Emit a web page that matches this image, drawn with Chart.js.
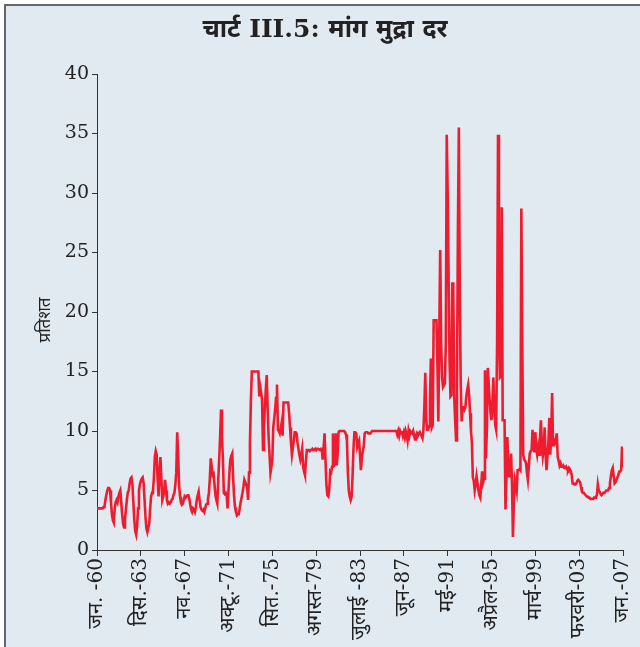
<!DOCTYPE html>
<html>
<head>
<meta charset="utf-8">
<script src="https://cdn.jsdelivr.net/npm/chart.js@4.4.1/dist/chart.umd.min.js"></script>
<style>
  html, body { margin: 0; padding: 0; background: #ffffff; }
  #frame {
    position: absolute; left: 4px; top: 4px; width: 636px; height: 643px;
    background: #e1e9f1; border-top: 2px solid #666; border-left: 2px solid #666;
    box-sizing: border-box;
  }
  #wrap { position: absolute; left: 0; top: 0; width: 640px; height: 647px; }
</style>
</head>
<body>
<div id="frame"></div>
<div id="wrap"><canvas id="c" width="640" height="647"></canvas></div>
<script>
// Monthly call money rate (per cent), Jan 1960 .. Jan 2007
const rate1960s = [
  3.5,3.5,3.5,3.5,3.5,3.5,3.5,3.6,3.6,4.2,4.6,5.0,
  5.2,5.2,5.0,4.0,3.0,2.5,2.3,3.5,4.0,4.2,4.0,4.5,
  4.8,5.0,4.0,3.0,2.2,1.9,2.6,3.4,4.2,4.8,5.0,5.6,
  6.0,6.1,5.5,4.0,2.5,1.6,1.3,2.0,3.5,5.0,5.5,5.8,
  6.0,6.1,5.6,4.2,2.8,1.8,1.5,1.9,2.2,3.5,4.5,4.8,
  5.0,6.0,7.8,8.3,8.0,6.0,4.5,6.5,7.8,6.0,4.2,4.5,
  5.0,5.9,5.0,4.2,3.9,4.0,3.9,4.0,4.2,4.3,4.6,4.8,
  5.5,6.5,9.9,8.0,5.5,4.5,4.0,3.8,3.9,4.2,4.5,4.4,
  4.5,4.6,4.6,4.3,3.8,3.4,3.2,3.5,3.4,3.2,3.6,4.2,
  4.6,4.9,4.2,3.6,3.4,3.3,3.4,3.2,3.5,3.8,3.9,4.3
];
const rate1970s = [
  4.8,6.0,7.7,7.0,6.3,6.4,5.5,4.6,4.2,3.9,5.9,7.6,
  9.5,11.8,9.5,7.6,4.8,4.7,4.8,4.6,3.5,5.0,6.5,7.6,
  7.9,8.1,6.0,4.5,3.6,3.2,2.9,3.0,3.0,3.5,4.0,4.4,
  4.8,5.3,5.9,5.7,5.5,5.2,4.2,6.5,9.0,12.5,15.0,15.0,
  15.0,15.0,15.0,15.0,15.0,15.0,12.9,13.7,13.2,12.6,8.4,10.5,
  12.0,13.5,14.7,11.8,9.5,8.0,6.5,7.0,7.6,10.3,11.0,11.8,
  12.8,13.9,10.1,10.0,9.8,10.2,10.7,9.6,12.4,12.4,12.4,12.4,
  12.4,12.4,11.5,10.3,9.0,8.0,8.6,9.2,9.9,9.9,9.8,9.0,
  8.5,8.0,7.6,8.0,8.5,7.0,6.6,6.3,7.5,8.4,8.4,8.4,
  8.3,8.4,8.4,8.5,8.4,8.4,8.5,8.4,8.5,8.5,8.5,8.4
];
const rate1980s = [
  8.5,8.5,7.6,8.6,9.8,7.6,5.5,4.6,4.5,5.0,6.6,6.5,
  7.0,9.8,7.0,7.5,9.8,7.1,8.0,9.9,10.0,10.0,10.0,10.0,
  10.0,10.0,9.9,9.7,9.2,6.5,5.0,4.5,4.2,4.5,6.2,8.5,
  9.9,9.9,9.8,8.7,9.0,9.2,8.0,6.7,7.8,8.3,8.7,9.8,
  9.9,9.9,9.9,9.8,9.8,9.8,9.9,10.0,10.0,10.0,10.0,10.0,
  10.0,10.0,10.0,10.0,10.0,10.0,10.0,10.0,10.0,10.0,10.0,10.0,
  10.0,10.0,10.0,10.0,10.0,10.0,10.0,10.0,10.0,10.0,9.7,10.0,
  9.6,10.0,9.8,10.0,9.6,9.9,9.5,10.0,9.7,9.2,10.0,9.6,
  10.0,9.9,9.8,10.0,9.6,9.3,9.6,9.8,9.6,9.8,9.9,9.7,
  9.6,9.4,10.1,12.0,14.9,11.0,10.1,10.1,10.4,12.6,16.1,10.3
];
const rate1990s = [
  10.5,19.3,19.3,19.3,19.3,15.7,10.8,18.0,25.2,17.4,14.5,13.7,
  13.7,14.0,17.4,34.9,30.0,22.9,16.0,12.9,13.0,22.4,22.4,12.9,
  11.0,9.2,14.0,27.0,35.5,21.6,14.0,10.8,12.0,12.0,11.8,12.0,
  12.9,13.5,13.9,13.0,11.5,10.0,9.0,6.1,5.8,5.0,5.5,6.2,
  5.6,5.0,4.6,4.4,5.5,6.6,5.7,6.0,15.1,7.7,10.0,15.3,
  14.0,12.6,11.5,10.9,12.5,14.5,11.9,10.5,10.1,17.4,34.9,20.0,
  14.5,14.6,28.8,10.9,10.9,10.9,3.4,6.0,9.5,7.0,6.1,7.0,
  8.1,5.5,1.1,4.0,5.9,5.5,5.0,6.7,6.7,6.8,6.7,28.7,
  17.4,8.0,7.6,7.5,7.3,6.5,5.9,7.0,8.1,8.3,8.4,10.1,
  9.0,8.2,9.9,8.5,8.0,8.6,8.0,9.5,10.9,8.8,7.9,8.5
];
const rate2000s = [
  10.3,8.0,6.7,7.9,9.0,11.1,8.0,9.5,13.2,8.8,9.2,9.0,
  9.3,9.8,7.8,7.5,7.1,7.3,7.0,7.0,7.1,6.9,6.9,7.0,
  6.8,6.7,6.9,6.8,6.6,6.3,5.6,5.6,5.5,5.5,5.6,5.8,
  5.9,5.8,5.7,5.3,4.9,4.8,4.8,4.7,4.6,4.5,4.5,4.4,
  4.4,4.3,4.3,4.3,4.3,4.4,4.4,4.5,4.6,5.5,5.0,4.9,
  4.7,4.6,4.7,4.8,4.8,4.9,5.0,5.0,5.0,5.2,5.6,6.2,
  6.7,6.9,6.2,5.6,5.7,5.9,6.1,6.3,6.6,6.6,6.7,8.7,
  7.0
];
const tickLabels = ['जन. -60','दिस.-63','नव.-67','अक्टू.-71','सित.-75','अगस्त-79','जुलाई -83','जून-87','मई-91','अप्रैल-95','मार्च-99','फरवरी-03','जन.-07'];
const tickStepMonths = 47;
const chartTitle = 'चार्ट III.5: मांग मुद्रा दर';
const yTitle = 'प्रतिशत';

const rates = [].concat(rate1960s, rate1970s, rate1980s, rate1990s, rate2000s);
const points = rates.map((v, i) => ({ x: i, y: v }));

const serif = "'DejaVu Serif', 'Liberation Serif', 'Noto Sans', serif";

const textPlugin = {
  id: 'texts',
  afterDraw(chart) {
    const ctx = chart.ctx;
    ctx.save();
    ctx.fillStyle = '#222';
    ctx.textAlign = 'center';
    ctx.textBaseline = 'middle';
    ctx.font = "bold 25px " + serif;
    ctx.fillText(chartTitle, 325, 30);
    ctx.translate(46, 320);
    ctx.rotate(-Math.PI / 2);
    ctx.font = "17px " + serif;
    ctx.fillText(yTitle, 0, 0);
    ctx.restore();
  }
};

new Chart(document.getElementById('c'), {
  type: 'line',
  data: {
    datasets: [{
      data: points,
      borderColor: '#ee1c2e',
      borderWidth: 2.6,
      pointRadius: 0,
      tension: 0,
      fill: false
    }]
  },
  options: {
    responsive: false,
    animation: false,
    layout: { padding: { left: 0, right: 17, top: 74, bottom: 0 } },
    plugins: {
      legend: { display: false },
      tooltip: { enabled: false },
      title: { display: false }
    },
    scales: {
      x: {
        type: 'linear',
        min: 0,
        max: (tickLabels.length - 1) * tickStepMonths,
        afterFit: s => { s.height = 97; s.paddingLeft = 0; s.paddingRight = 0; },
        grid: { display: true, drawOnChartArea: false, drawTicks: true, tickLength: 6, color: '#333' },
        border: { display: true, color: '#333', width: 1 },
        ticks: {
          stepSize: tickStepMonths,
          autoSkip: false,
          maxRotation: 90,
          minRotation: 90,
          padding: 2,
          color: '#222',
          font: { family: serif, size: 20 },
          callback: v => tickLabels[Math.round(v / tickStepMonths)]
        }
      },
      y: {
        min: 0,
        max: 40,
        afterFit: s => { s.width = 97; s.paddingTop = 0; s.paddingBottom = 0; },
        grid: { display: true, drawOnChartArea: false, drawTicks: true, tickLength: 5, color: '#333' },
        border: { display: true, color: '#333', width: 1 },
        ticks: {
          stepSize: 5,
          padding: 3,
          color: '#222',
          font: { family: serif, size: 19 }
        }
      }
    }
  },
  plugins: [textPlugin]
});
</script>
</body>
</html>
